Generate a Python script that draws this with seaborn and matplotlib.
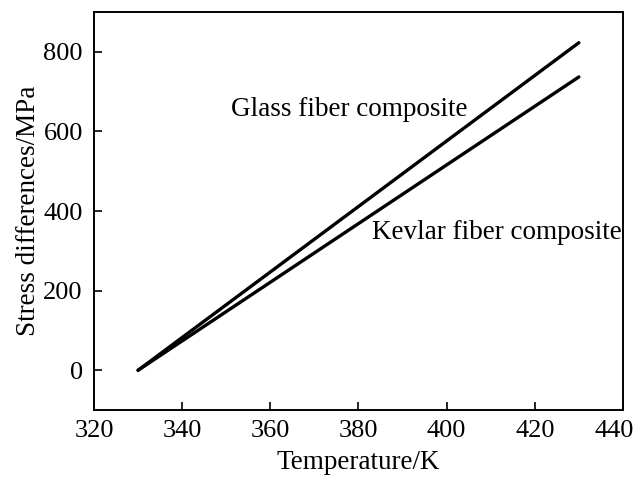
import pandas as pd
import matplotlib
matplotlib.use("Agg")
import matplotlib.pyplot as plt
import matplotlib.transforms as mtransforms
import seaborn as sns

# values
temperature = [330, 430]
glass_stress = [0, 823]
kevlar_stress = [0, 737]
x_ticks = [320, 340, 360, 380, 400, 420, 440]
y_ticks = [0, 200, 400, 600, 800]

df = pd.DataFrame({
    "Temperature": temperature * 2,
    "Stress": glass_stress + kevlar_stress,
    "Composite": ["Glass fiber composite"] * 2 + ["Kevlar fiber composite"] * 2,
})

sns.set_style("ticks")
plt.rcParams["font.family"] = ["Liberation Serif", "DejaVu Serif"]
plt.rcParams["text.color"] = "black"
plt.rcParams["axes.labelcolor"] = "black"

fig = plt.figure(figsize=(6.35, 4.83), dpi=100)
ax = fig.add_axes([0.148, 0.151, 0.833, 0.824])

sns.lineplot(data=df, x="Temperature", y="Stress", units="Composite",
             estimator=None, color="black", linewidth=2.4, ax=ax, legend=False)

ax.set_xlim(320, 440)
ax.set_ylim(-100, 900)
ax.set_xticks(x_ticks)
ax.set_yticks(y_ticks)
ax.tick_params(direction="in", length=6, width=1.2, labelsize=19, colors="black")
ax.tick_params(axis="x", pad=7)
ax.tick_params(axis="y", pad=8)
for s in ax.spines.values():
    s.set_linewidth(1.4)
    s.set_color("black")

# the last x label sits at the figure edge; nudge it left a little
fig.canvas.draw()
last = ax.get_xticklabels()[-1]
last.set_transform(last.get_transform() +
                   mtransforms.ScaledTranslation(-9 / 100, 0, fig.dpi_scale_trans))

ax.set_xlabel("Temperature/K", fontsize=19.5, labelpad=6, color="black")
ax.set_ylabel("Stress differences/MPa", fontsize=19.5, labelpad=2, color="black")

ax.text(351, 654, "Glass fiber composite", fontsize=19.5, va="center", ha="left", color="black")
ax.text(383, 345, "Kevlar fiber composite", fontsize=19.5, va="center", ha="left", color="black")

fig.savefig("out.png", dpi=100)
